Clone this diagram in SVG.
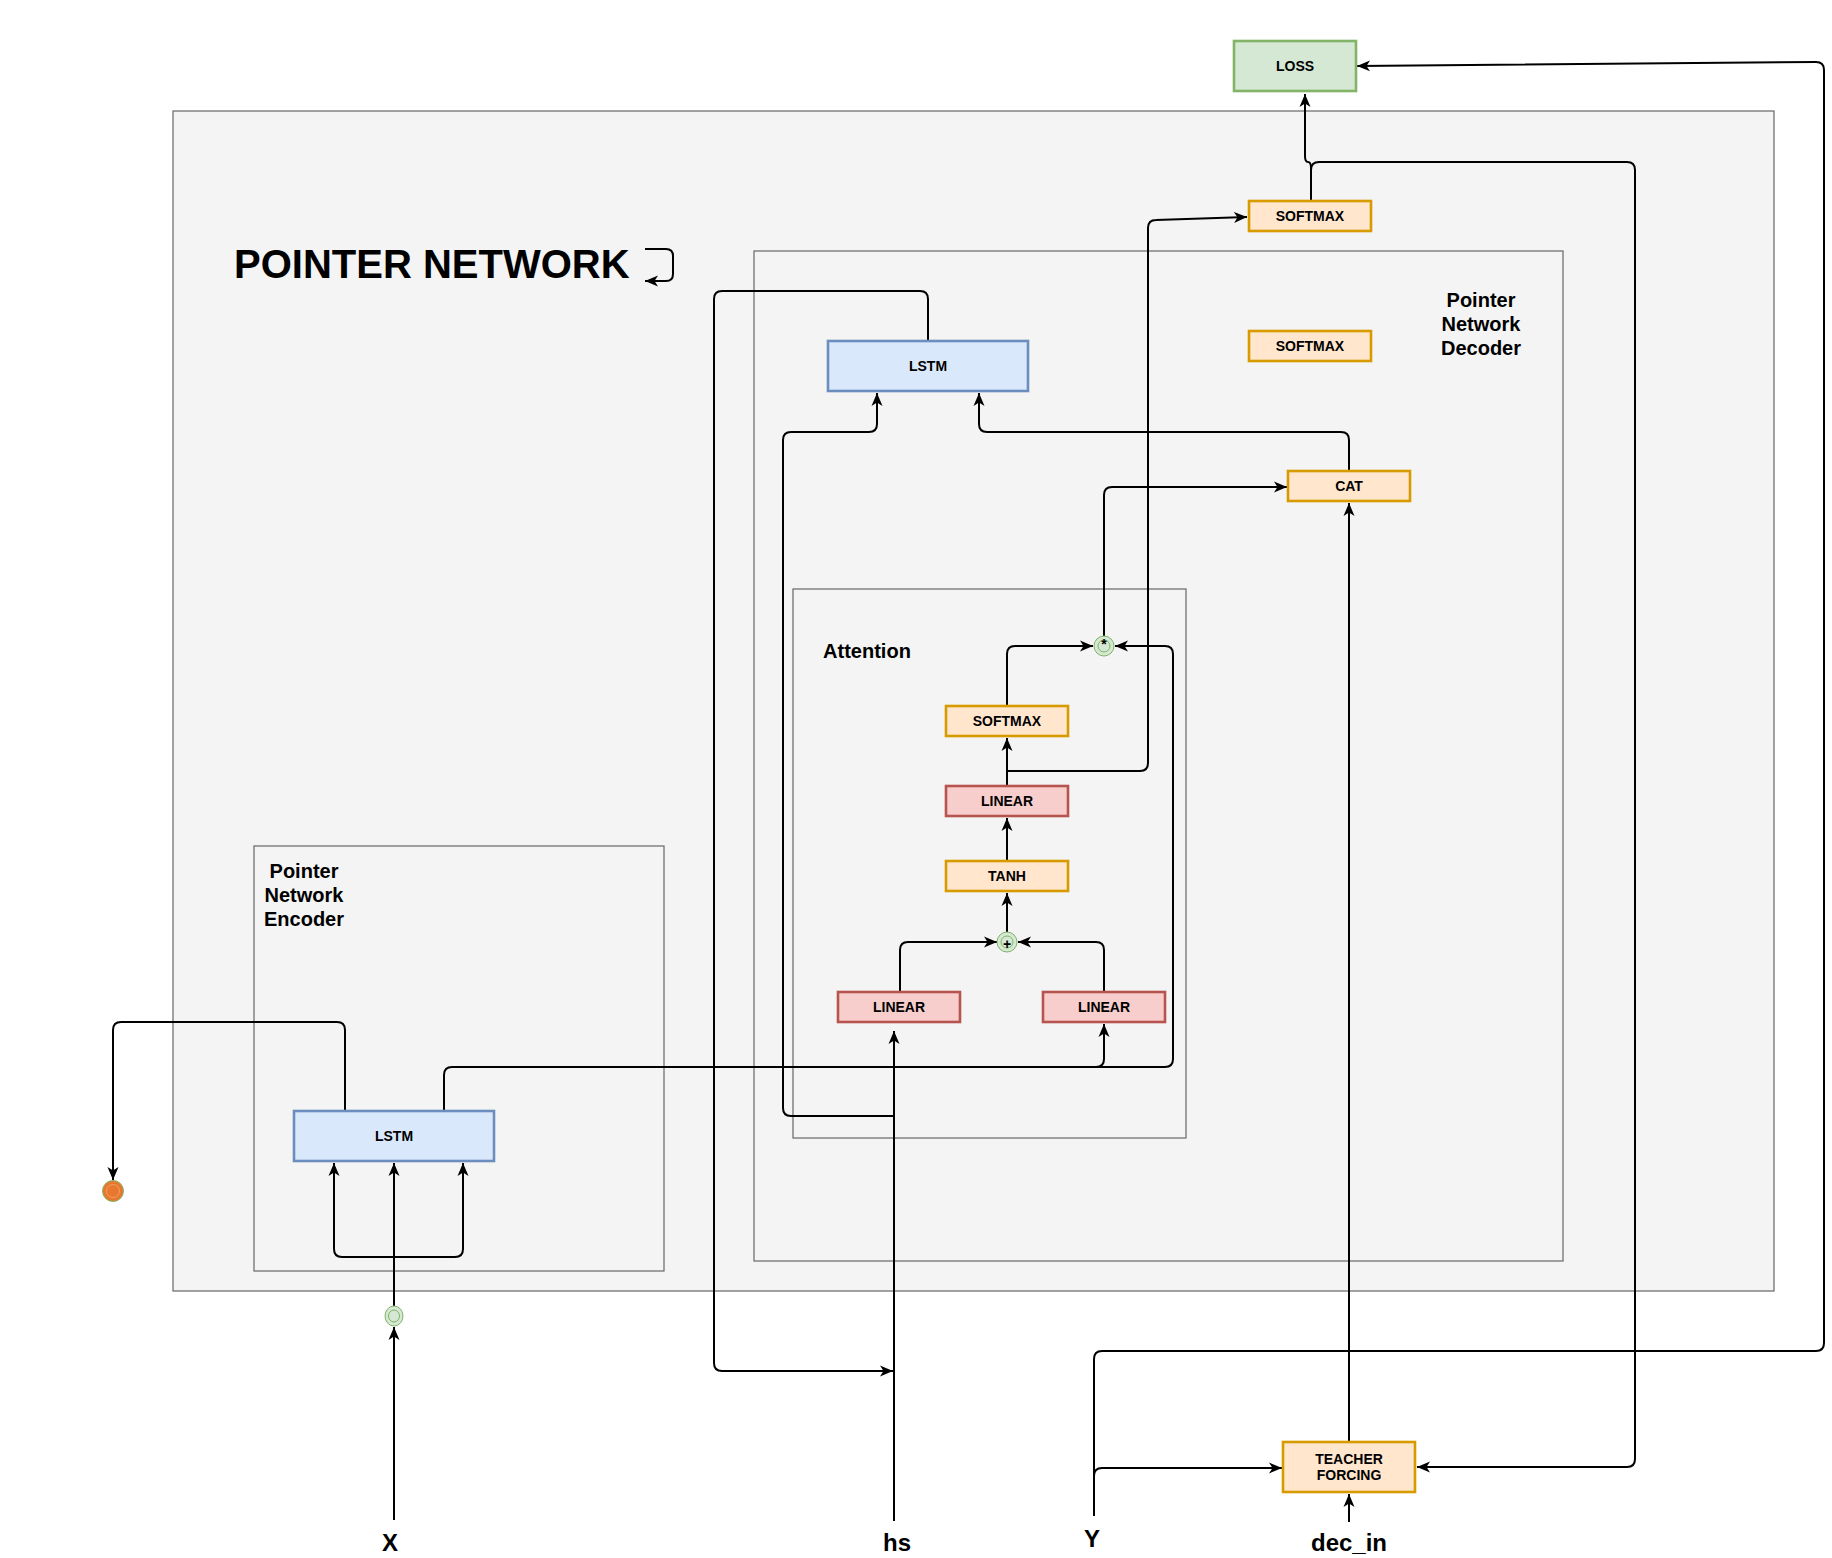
<svg xmlns="http://www.w3.org/2000/svg" width="1832" height="1558" viewBox="0 0 1832 1558">
<style>
.cont{fill:#f4f4f4;stroke:#666666;stroke-width:1.2}
.box{stroke-width:2.6}
.or{fill:#ffe6cc;stroke:#d79b00}
.rd{fill:#f8cecc;stroke:#b85450}
.bl{fill:#dae8fc;stroke:#6c8ebf}
.gr{fill:#d5e8d4;stroke:#82b366}
.lbl{font-family:"Liberation Sans",Arial,sans-serif;font-weight:bold;font-size:14px;fill:#000;text-anchor:middle;dominant-baseline:central}
.big{font-family:"Liberation Sans",Arial,sans-serif;font-weight:bold;font-size:20px;fill:#000;text-anchor:middle}
.io{font-family:"Liberation Sans",Arial,sans-serif;font-weight:bold;font-size:24px;fill:#000;text-anchor:middle}
.e{fill:none;stroke:#000;stroke-width:2;marker-end:url(#arr)}
.n{fill:none;stroke:#000;stroke-width:2}
.dc{fill:#d5e8d4;stroke:#82b366;stroke-width:1}
</style>
<defs>
<marker id="arr" markerUnits="userSpaceOnUse" viewBox="0 0 14 14" markerWidth="14" markerHeight="14" refX="13" refY="7" orient="auto">
<path d="M0,1.5 L13,7 L0,12.5 L3.5,7 z" fill="#000"/>
</marker>
</defs>
<rect width="1832" height="1558" fill="#ffffff"/>

<g id="containers">
<rect id="pointer-network" class="cont" x="173" y="111" width="1601" height="1180"/>
<rect id="decoder" class="cont" x="754" y="251" width="809" height="1010"/>
<rect id="attention" class="cont" x="793" y="589" width="393" height="549"/>
<rect id="encoder" class="cont" x="254" y="846" width="410" height="425"/>
</g>

<g id="title">
<text x="234" y="278" font-family="Liberation Sans,Arial,sans-serif" font-weight="bold" font-size="40" fill="#000">POINTER NETWORK</text>
<path class="e" d="M645,249 L666,249 Q673,249 673,256 L673,274 Q673,281 666,281 L645,281"/>
</g>

<g id="container-labels">
<text class="big" x="1481" y="307">Pointer</text>
<text class="big" x="1481" y="331">Network</text>
<text class="big" x="1481" y="355">Decoder</text>
<text class="big" x="304" y="878">Pointer</text>
<text class="big" x="304" y="902">Network</text>
<text class="big" x="304" y="926">Encoder</text>
<text class="big" x="867" y="658">Attention</text>
</g>

<g id="connectors">
<path class="e" d="M1311,201 L1311,168 Q1311,162 1308,162 Q1305,162 1305,156 L1305,94"/>
<path class="e" d="M1311,201 L1311,170 Q1311,162 1319,162 L1627,162 Q1635,162 1635,170 L1635,1459 Q1635,1467 1627,1467 L1417,1467"/>
<path class="e" d="M1094,1516 L1094,1359 Q1094,1351 1102,1351 L1816,1351 Q1824,1351 1824,1343 L1824,70 Q1824,62 1816,62 L1357,66"/>
<path class="e" d="M1094,1516 L1094,1476 Q1094,1468 1102,1468 L1282,1468"/>
<path class="e" d="M1349,1522 L1349,1494"/>
<path class="e" d="M1349,1442 L1349,503"/>
<path class="e" d="M1349,471 L1349,440 Q1349,432 1341,432 L987,432 Q979,432 979,424 L979,393"/>
<path class="e" d="M1104,636 L1104,495 Q1104,487 1112,487 L1287,487"/>
<path class="e" d="M928,341 L928,299 Q928,291 920,291 L722,291 Q714,291 714,299 L714,1363 Q714,1371 722,1371 L893,1371"/>
<path class="e" d="M894,1521 L894,1031"/>
<path class="e" d="M894,1116 L791,1116 Q783,1116 783,1108 L783,440 Q783,432 791,432 L869,432 Q877,432 877,424 L877,393"/>
<path class="e" d="M444,1111 L444,1075 Q444,1067 452,1067 L1096,1067 Q1104,1067 1104,1059 L1104,1024"/>
<path class="e" d="M1096,1067 L1165,1067 Q1173,1067 1173,1059 L1173,654 Q1173,646 1165,646 L1115,646"/>
<path class="e" d="M345,1111 L345,1030 Q345,1022 337,1022 L121,1022 Q113,1022 113,1030 L113,1180"/>
<path class="e" d="M394,1306 L394,1163"/>
<path class="e" d="M394,1257 L342,1257 Q334,1257 334,1249 L334,1163"/>
<path class="e" d="M394,1257 L455,1257 Q463,1257 463,1249 L463,1163"/>
<path class="e" d="M394,1520 L394,1327"/>
<path class="e" d="M900,992 L900,950 Q900,942 908,942 L997,942"/>
<path class="e" d="M1104,992 L1104,950 Q1104,942 1096,942 L1018,942"/>
<path class="e" d="M1007,932 L1007,893"/>
<path class="e" d="M1007,861 L1007,818"/>
<path class="e" d="M1007,786 L1007,738"/>
<path class="e" d="M1007,786 L1007,771 L1140,771 Q1148,771 1148,763 L1148,228 Q1148,220 1156,220 L1247,217"/>
<path class="e" d="M1007,706 L1007,654 Q1007,646 1015,646 L1093,646"/>
</g>

<g id="node-loss"><rect class="box gr" x="1234" y="41" width="122" height="50"/><text class="lbl" x="1295" y="66">LOSS</text></g>
<g id="node-softmax-out"><rect class="box or" x="1249" y="201" width="122" height="30"/><text class="lbl" x="1310" y="216">SOFTMAX</text></g>
<g id="node-softmax-dec"><rect class="box or" x="1249" y="331" width="122" height="30"/><text class="lbl" x="1310" y="346">SOFTMAX</text></g>
<g id="node-lstm-dec"><rect class="box bl" x="828" y="341" width="200" height="50"/><text class="lbl" x="928" y="366">LSTM</text></g>
<g id="node-cat"><rect class="box or" x="1288" y="471" width="122" height="30"/><text class="lbl" x="1349" y="486">CAT</text></g>
<g id="node-mul"><circle class="dc" cx="1104" cy="646" r="10"/><circle class="dc" cx="1104" cy="646" r="6"/><text class="lbl" x="1104" y="644">*</text></g>
<g id="node-softmax-att"><rect class="box or" x="946" y="706" width="122" height="30"/><text class="lbl" x="1007" y="721">SOFTMAX</text></g>
<g id="node-linear-att"><rect class="box rd" x="946" y="786" width="122" height="30"/><text class="lbl" x="1007" y="801">LINEAR</text></g>
<g id="node-tanh"><rect class="box or" x="946" y="861" width="122" height="30"/><text class="lbl" x="1007" y="876">TANH</text></g>
<g id="node-add"><circle class="dc" cx="1007" cy="942" r="10"/><circle class="dc" cx="1007" cy="942" r="6"/><text class="lbl" x="1007" y="944">+</text></g>
<g id="node-linear-left"><rect class="box rd" x="838" y="992" width="122" height="30"/><text class="lbl" x="899" y="1007">LINEAR</text></g>
<g id="node-linear-right"><rect class="box rd" x="1043" y="992" width="122" height="30"/><text class="lbl" x="1104" y="1007">LINEAR</text></g>
<g id="node-lstm-enc"><rect class="box bl" x="294" y="1111" width="200" height="50"/><text class="lbl" x="394" y="1136">LSTM</text></g>
<g id="node-input"><ellipse class="dc" cx="394" cy="1316" rx="9" ry="10"/><ellipse class="dc" cx="394" cy="1316" rx="5.5" ry="6"/></g>
<g id="node-output"><circle cx="113" cy="1191" r="10.5" fill="#e8782f" stroke="#82b366" stroke-width="1"/><circle cx="113" cy="1191" r="6.5" fill="none" stroke="#f0a060" stroke-width="1"/></g>
<g id="node-teacher"><rect class="box or" x="1283" y="1442" width="132" height="50"/><text class="lbl" x="1349" y="1459">TEACHER</text><text class="lbl" x="1349" y="1475">FORCING</text></g>

<g id="io-labels">
<text class="io" x="390" y="1551">X</text>
<text class="io" x="897" y="1551">hs</text>
<text class="io" x="1092" y="1547">Y</text>
<text class="io" x="1349" y="1551">dec_in</text>
</g>
</svg>
